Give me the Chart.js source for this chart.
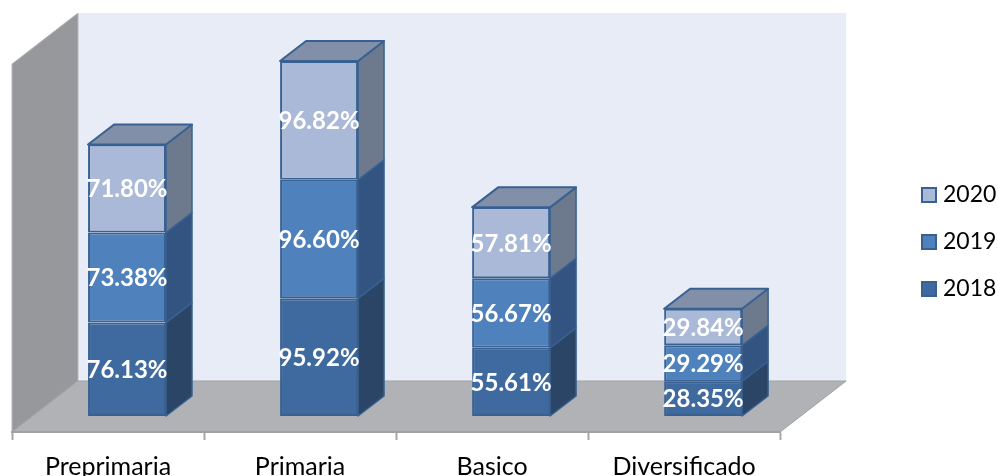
<!DOCTYPE html>
<html>
<head>
<meta charset="utf-8">
<script src="https://cdn.jsdelivr.net/npm/chart.js@4"></script>
<style>
	html, body { margin: 0; padding: 0; background: #fff; overflow: hidden; }
	#chart { display: block; }
</style>
</head>
<body>
<canvas id="chart" width="998" height="476"></canvas>
<script>
const categories = ['Preprimaria', 'Primaria', 'Basico', 'Diversificado'];
const years = ['2018', '2019', '2020'];
const values2018 = [76.13, 95.92, 55.61, 28.35];
const values2019 = [73.38, 96.60, 56.67, 29.29];
const values2020 = [71.80, 96.82, 57.81, 29.84];

const frontColors = ['#3f6a9f', '#4f81bd', '#aab9d7'];
const sideColors = ['#2a4566', '#335480', '#6d7a8d'];
const topColor = '#828fa8';
const lineColor = '#386192';

const fontName = 'Lato, sans-serif';
const barDepth = { x: 26, y: -20 };
const wallDepth = { x: 66, y: -51 };
const barShift = { x: 19, y: -16 };

function poly(ctx, pts, fill, stroke, width) {
	ctx.beginPath();
	pts.forEach(([x, y], i) => (i ? ctx.lineTo(x, y) : ctx.moveTo(x, y)));
	ctx.closePath();
	ctx.fillStyle = fill;
	ctx.fill();
	if (stroke) {
		ctx.strokeStyle = stroke;
		ctx.lineWidth = width;
		ctx.lineJoin = 'round';
		ctx.stroke();
	}
}

// legend swatch as a small canvas, so the gap before the text can be narrower than the default
function swatch(color) {
	const c = document.createElement('canvas');
	c.width = 16;
	c.height = 16;
	const g = c.getContext('2d');
	g.fillStyle = color;
	g.fillRect(0, 0, 16, 16);
	g.strokeStyle = lineColor;
	g.lineWidth = 2;
	g.strokeRect(1, 1, 14, 14);
	return c;
}
const swatches = frontColors.map(swatch);

const scenePlugin = {
	id: 'scene',
	afterLayout(chart) {
		// legend sits further right and higher than the layout box would put it
		const legend = chart.legend;
		legend.left = 926.5 - legend.options.labels.padding;
		legend.right = 998;
		legend.top -= 37;
		legend.bottom -= 37;
	},
	beforeDraw(chart) {
		const { ctx, chartArea: a } = chart;
		const d = wallDepth;
		poly(ctx, [[a.left + d.x, a.top + d.y], [a.right + d.x, a.top + d.y], [a.right + d.x, a.bottom + d.y], [a.left + d.x, a.bottom + d.y]], '#e8ecf6');
		poly(ctx, [[a.left, a.top], [a.left + d.x, a.top + d.y], [a.left + d.x, a.bottom + d.y], [a.left, a.bottom]], '#97989b', '#b4b6b9', 1);
		poly(ctx, [[a.left, a.bottom], [a.right, a.bottom], [a.right + d.x, a.bottom + d.y], [a.left + d.x, a.bottom + d.y]], '#b0b2b5', '#a0a1a4', 1);
	},
	beforeDatasetsDraw(chart) {
		const { ctx } = chart;
		const d = barDepth;
		ctx.save();
		ctx.translate(barShift.x, barShift.y);
		chart.data.datasets.forEach((ds, i) => {
			chart.getDatasetMeta(i).data.forEach((bar) => {
				const r = bar.x + bar.width / 2;
				poly(ctx, [[r, bar.y], [r + d.x, bar.y + d.y], [r + d.x, bar.base + d.y], [r, bar.base]], sideColors[i], lineColor, 1.5);
				if (i === chart.data.datasets.length - 1) {
					const l = bar.x - bar.width / 2;
					poly(ctx, [[l, bar.y], [l + d.x, bar.y + d.y], [r + d.x, bar.y + d.y], [r, bar.y]], topColor, lineColor, 2);
				}
			});
		});
	},
	afterDatasetsDraw(chart) {
		const { ctx } = chart;
		ctx.fillStyle = '#fff';
		ctx.font = 'bold 24px ' + fontName;
		ctx.textAlign = 'center';
		ctx.textBaseline = 'middle';
		chart.data.datasets.forEach((ds, i) => {
			chart.getDatasetMeta(i).data.forEach((bar, j) => {
				ctx.fillText(ds.data[j].toFixed(2) + '%', bar.x, (bar.y + bar.base) / 2 + 1);
			});
		});
		ctx.restore();
	},
};

new Chart(document.getElementById('chart'), {
	type: 'bar',
	data: {
		labels: categories,
		datasets: [values2018, values2019, values2020].map((data, i) => ({
			label: years[i],
			data: data,
			backgroundColor: frontColors[i],
			borderColor: lineColor,
			borderWidth: 2,
			borderSkipped: false,
			categoryPercentage: 1,
			barPercentage: 0.406,
			clip: false,
		})),
	},
	options: {
		responsive: false,
		animation: false,
		layout: { padding: { left: 12, right: 114, top: 64, bottom: -18 } },
		scales: {
			x: {
				stacked: true,
				grid: { drawOnChartArea: false, tickLength: 8, color: '#a6a7aa', tickWidth: 2 },
				border: { color: '#a0a1a4', width: 2 },
				ticks: { color: '#000', padding: 12, maxRotation: 0, font: { family: fontName, size: 25 } },
			},
			y: { stacked: true, display: false, min: 0, max: 300 },
		},
		plugins: {
			tooltip: { enabled: false },
			title: { display: false },
			legend: {
				position: 'right',
				reverse: true,
				labels: {
					usePointStyle: true,
					pointStyleWidth: 5,
					boxHeight: 15,
					padding: 24,
					color: '#000',
					font: { family: fontName, size: 23 },
					generateLabels(chart) {
						return Chart.defaults.plugins.legend.labels.generateLabels(chart).map((item) => ({
							...item,
							pointStyle: swatches[item.datasetIndex],
						}));
					},
				},
			},
		},
	},
	plugins: [scenePlugin],
});
</script>
</body>
</html>
